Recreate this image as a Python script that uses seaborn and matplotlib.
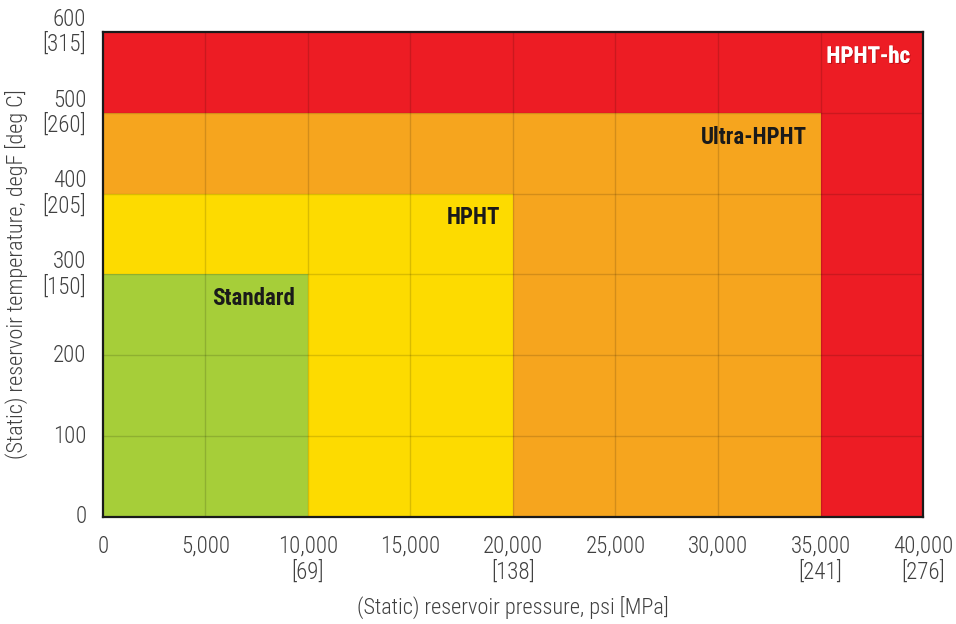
import numpy as np
import pandas as pd
import seaborn as sns
import matplotlib
matplotlib.use("Agg")
import matplotlib.pyplot as plt
from matplotlib import font_manager as fm
from matplotlib.colors import ListedColormap
import matplotlib.patheffects as pe

# ---- data ----
zone_names = ["Standard", "HPHT", "Ultra-HPHT", "HPHT-hc"]
zone_max_pressure = [10000, 20000, 35000, 40000]   # psi
zone_max_temp = [300, 400, 500, 600]               # degF
zone_colors = ["#A6CE39", "#FDDB00", "#F6A51E", "#ED1C24"]
zone_text_colors = ["#1a1a1a", "#1a1a1a", "#1a1a1a", "#ffffff"]

pressure_ticks = [0, 5000, 10000, 15000, 20000, 25000, 30000, 35000, 40000]
pressure_mpa = ["", "", "69", "", "138", "", "", "241", "276"]
temp_ticks = [0, 100, 200, 300, 400, 500, 600]
temp_degc = ["", "", "", "150", "205", "260", "315"]

p_step = 5000
t_step = 100

# ---- build cell grid ----
p_upper = np.array(pressure_ticks[1:])
t_upper = np.array(temp_ticks[1:])
grid = np.zeros((len(t_upper), len(p_upper)), dtype=int)
for r, t in enumerate(t_upper):
    for c, p in enumerate(p_upper):
        for z in range(len(zone_names)):
            if p <= zone_max_pressure[z] and t <= zone_max_temp[z]:
                grid[r, c] = z
                break
df = pd.DataFrame(grid, index=t_upper, columns=p_upper)

sns.set_style("white")
installed = {f.name for f in fm.fontManager.ttflist}
pref = ["Roboto Condensed", "Archivo Narrow", "Barlow Semi Condensed", "Asap Condensed", "DejaVu Sans"]
main_font = next((f for f in pref if f in installed), "DejaVu Sans")
plt.rcParams["font.family"] = [main_font, "DejaVu Sans"]

fig = plt.figure(figsize=(9.56, 6.24), dpi=100)
ax = fig.add_axes([0.1077, 0.1715, 0.8578, 0.7772])

sns.heatmap(df, ax=ax, cmap=ListedColormap(zone_colors), vmin=-0.5, vmax=3.5,
            cbar=False, linewidths=0, xticklabels=False, yticklabels=False)
ax.invert_yaxis()

def px(p):
    return p / p_step

def ty(t):
    return t / t_step

# grid lines (darker shade of each cell)
for i in range(1, len(pressure_ticks) - 1):
    ax.axvline(i, color="black", alpha=0.14, lw=1.0)
for j in range(1, len(temp_ticks) - 1):
    ax.axhline(j, color="black", alpha=0.14, lw=1.0)

ax.set_xlim(0, len(pressure_ticks) - 1)
ax.set_ylim(0, len(temp_ticks) - 1)

tick_color = "#404040"
fs = 16.5
xlabels = [f"{p:,}" + (f"\n[{m}]" if m else "") for p, m in zip(pressure_ticks, pressure_mpa)]
ylabels = [f"{t}" + (f"\n[{c}]" if c else "") for t, c in zip(temp_ticks, temp_degc)]
ax.set_xticks([px(p) for p in pressure_ticks])
ax.set_xticklabels(xlabels, fontsize=fs, color=tick_color, linespacing=1.12, fontweight="light")
ax.set_yticks([ty(t) for t in temp_ticks])
ax.set_yticklabels(ylabels, fontsize=fs, color=tick_color, linespacing=1.12, fontweight="light",
                   rotation=0, va="center", ha="right")
ax.tick_params(axis="y", length=0, pad=12)
ax.tick_params(axis="x", length=0, pad=13)

ax.set_xlabel("(Static) reservoir pressure, psi [MPa]", fontsize=16, color=tick_color,
              fontweight="light", labelpad=9.5)
ax.set_ylabel("(Static) reservoir temperature, degF [deg C]", fontsize=16, color=tick_color,
              fontweight="light", labelpad=10)

for s in ax.spines.values():
    s.set_visible(True)
    s.set_color("#1a1a1a")
    s.set_linewidth(1.6)

for name, pmax, tmax, tc in zip(zone_names, zone_max_pressure, zone_max_temp, zone_text_colors):
    kw = {}
    if tc == "#ffffff":
        kw["path_effects"] = [pe.withSimplePatchShadow(offset=(0.8, -0.8), shadow_rgbFace="#700000", alpha=0.4),
                              pe.Normal()]
    ax.text(px(pmax) - 0.127, ty(tmax) - 0.30, name, ha="right", va="center",
            fontsize=16.5, fontweight="bold", color=tc, **kw)

fig.savefig("out.png", dpi=100)
